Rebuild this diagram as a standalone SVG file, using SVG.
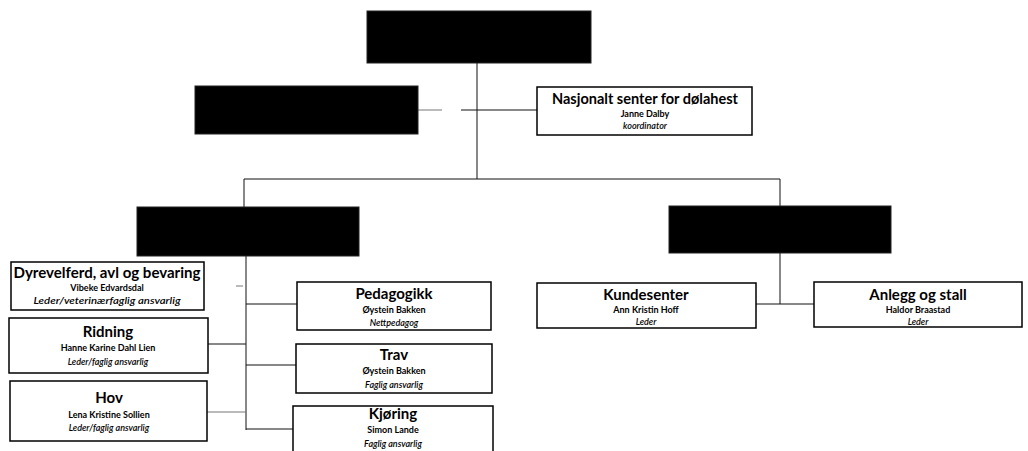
<svg xmlns="http://www.w3.org/2000/svg" width="1028" height="451" viewBox="0 0 1028 451">
<style>
.blk{fill:#000;stroke:#222;stroke-width:1}
.box{fill:#fff;stroke:#000;stroke-width:1.5}
.t{font-family:Lato,"Open Sans","Liberation Sans",sans-serif;font-weight:bold;font-size:15px;text-anchor:middle;fill:#000}
.n{font-family:Lato,"Open Sans","Liberation Sans",sans-serif;font-weight:bold;font-size:9px;text-anchor:middle;fill:#000}
.r{font-family:Lato,"Open Sans","Liberation Sans",sans-serif;font-style:italic;font-weight:600;font-size:9px;text-anchor:middle;fill:#000}
.c{stroke:#111;stroke-width:1;fill:none}
.g{stroke:#777;stroke-width:1;fill:none}
</style>
<rect width="1028" height="451" fill="#fff"/>
<g id="connectors">
<line class="c" x1="477" y1="63" x2="477" y2="179"/>
<line class="c" x1="244" y1="179" x2="780" y2="179"/>
<line class="c" x1="244" y1="179" x2="244" y2="207"/>
<line class="c" x1="780" y1="179" x2="780" y2="206"/>
<line class="g" x1="418" y1="110" x2="442" y2="110"/>
<line class="c" x1="461" y1="110" x2="537" y2="110"/>
<line class="c" x1="246" y1="256" x2="246" y2="430"/>
<line class="g" x1="236" y1="286" x2="243" y2="286"/>
<line class="c" x1="246" y1="304" x2="297" y2="304"/>
<line class="c" x1="208" y1="344" x2="246" y2="344"/>
<line class="c" x1="246" y1="365" x2="296" y2="365"/>
<line class="g" x1="207" y1="412" x2="246" y2="412"/>
<line class="c" x1="246" y1="429" x2="293" y2="429"/>
<line class="c" x1="780" y1="253" x2="780" y2="304"/>
<line class="c" x1="756" y1="304" x2="814" y2="304"/>
</g>
<g id="top"><rect class="blk" x="367" y="11" width="224" height="52"/></g>
<g id="staff"><rect class="blk" x="195" y="86" width="223" height="48"/></g>
<g id="nasjonalt">
<rect class="box" x="537" y="87" width="215" height="48"/>
<text class="t" x="645" y="104" textLength="186" lengthAdjust="spacingAndGlyphs">Nasjonalt senter for dølahest</text>
<text class="n" x="645" y="117">Janne Dalby</text>
<text class="r" x="645" y="129">koordinator</text>
</g>
<g id="dept-left"><rect class="blk" x="137" y="207" width="222" height="49"/></g>
<g id="dept-right"><rect class="blk" x="669" y="206" width="222" height="47"/></g>
<g id="dyrevelferd">
<rect class="box" x="11" y="262" width="193" height="48"/>
<text class="t" x="107" y="278" textLength="187" lengthAdjust="spacingAndGlyphs">Dyrevelferd, avl og bevaring</text>
<text class="n" x="107" y="291">Vibeke Edvardsdal</text>
<text class="r" x="107" y="304" textLength="147" lengthAdjust="spacingAndGlyphs">Leder/veterinærfaglig ansvarlig</text>
</g>
<g id="ridning">
<rect class="box" x="9" y="318" width="199" height="55"/>
<text class="t" x="108" y="337">Ridning</text>
<text class="n" x="108" y="351">Hanne Karine Dahl Lien</text>
<text class="r" x="108" y="365">Leder/faglig ansvarlig</text>
</g>
<g id="hov">
<rect class="box" x="10" y="381" width="197" height="60"/>
<text class="t" x="109" y="403">Hov</text>
<text class="n" x="109" y="418">Lena Kristine Sollien</text>
<text class="r" x="109" y="431">Leder/faglig ansvarlig</text>
</g>
<g id="pedagogikk">
<rect class="box" x="297" y="282" width="194" height="48"/>
<text class="t" x="394" y="299">Pedagogikk</text>
<text class="n" x="394" y="313">Øystein Bakken</text>
<text class="r" x="394" y="326">Nettpedagog</text>
</g>
<g id="trav">
<rect class="box" x="296" y="344" width="196" height="49"/>
<text class="t" x="394" y="360">Trav</text>
<text class="n" x="394" y="374">Øystein Bakken</text>
<text class="r" x="394" y="388">Faglig ansvarlig</text>
</g>
<g id="kjoring">
<rect class="box" x="293" y="406" width="200" height="50"/>
<text class="t" x="393" y="419">Kjøring</text>
<text class="n" x="393" y="433">Simon Lande</text>
<text class="r" x="393" y="447">Faglig ansvarlig</text>
</g>
<g id="kundesenter">
<rect class="box" x="537" y="283" width="219" height="45"/>
<text class="t" x="646" y="300">Kundesenter</text>
<text class="n" x="646" y="313">Ann Kristin Hoff</text>
<text class="r" x="646" y="325">Leder</text>
</g>
<g id="anlegg">
<rect class="box" x="814" y="282" width="208" height="45"/>
<text class="t" x="918" y="300">Anlegg og stall</text>
<text class="n" x="918" y="313">Haldor Braastad</text>
<text class="r" x="918" y="325">Leder</text>
</g>
</svg>
